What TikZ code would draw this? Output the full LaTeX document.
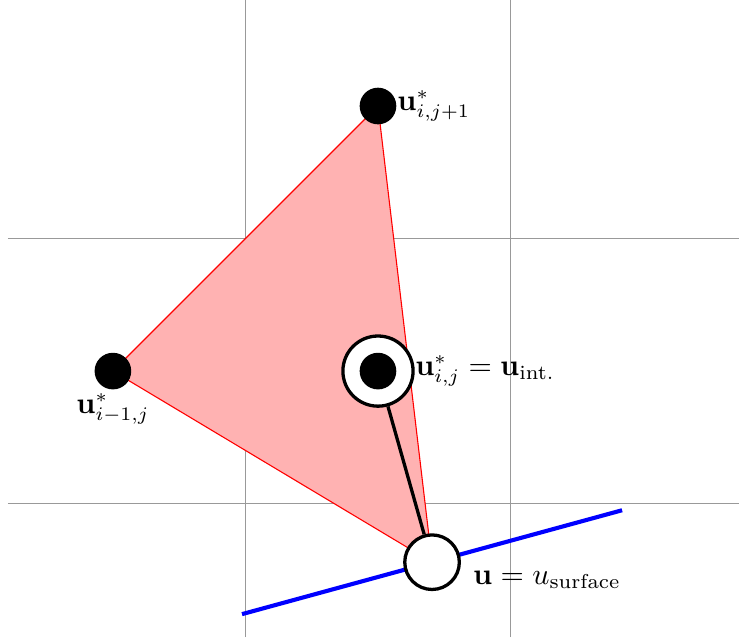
\documentclass[tikz,border=0pt]{standalone}
\usepackage{amsmath}

\tikzset{
  dot/.style={circle, fill=black, inner sep=0pt, minimum size=0.47cm},
  ring/.style={circle, draw=black, very thick, fill=white, inner sep=0pt, minimum size=0.9cm},
  surfnode/.style={circle, draw=black, very thick, fill=white, inner sep=0pt, minimum size=0.7cm},
  gridline/.style={gray!80, thin},
  surfline/.style={blue, line width=1.5pt},
}

\begin{document}
\begin{tikzpicture}[x=3.4cm, y=3.4cm, font=\fontsize{10.5pt}{12.6pt}\selectfont]
			\useasboundingbox (-1.426,-1.004) rectangle (1.362,1.4);

			\coordinate (im1j) at (-1, 0);
\coordinate (ij) at (0, 0);
\coordinate (ijp1) at (0, 1);
\coordinate (surf) at (0.204, -0.721);

			\draw[gridline] (-0.5, -1.004) -- (-0.5, 1.4);
\draw[gridline] (0.5, -1.004) -- (0.5, 1.4);
\draw[gridline] (-1.396, 0.5) -- (1.362, 0.5);
\draw[gridline] (-1.396, -0.5) -- (1.362, -0.5);

			\filldraw[fill = red!30, draw = red] (im1j) -- (ijp1) -- (surf) -- cycle;
			\draw[surfline] ([shift={(-0.717,-0.196)}]surf) -- ([shift={(0.717,0.196)}]surf);

			\node[dot, label={[inner sep=1pt]below:$\mathbf{u}^*_{i-1,j}$}] (nim1j) at (im1j) {};
\node[dot, label={[inner sep=0pt]right:$\mathbf{u}^*_{i,j+1}$}] (nijp1) at (ijp1) {};
\node[ring, label={[inner sep=0pt]right:$\mathbf{u}^*_{i,j} = \mathbf{u}_{\text{int.}}$}] (nij) at (ij) {};
\node[dot] (nijc) at (ij) {};
\node[surfnode, label={[inner sep=0pt, xshift=0.15cm, yshift=-0.23cm]right:$\mathbf{u} = u_{\text{surface}}$}] (nsurf) at (surf) {};

			\draw[very thick] (nij) -- (nsurf);

		\end{tikzpicture}
\end{document}
